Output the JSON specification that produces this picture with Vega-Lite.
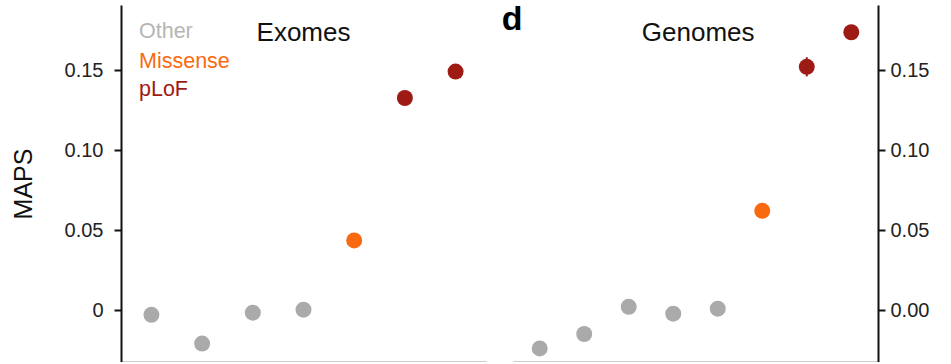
{
  "$schema": "https://vega.github.io/schema/vega-lite/v6.json",
  "padding": {"left": 11, "top": 2, "right": 0, "bottom": 0},
  "background": "white",
  "spacing": 15,
  "config": {
    "view": {"stroke": null},
    "font": "Liberation Sans",
    "axis": {"grid": false}
  },
  "datasets": {
    "exomes": [
      {"idx": 1, "type": "Other", "maps": -0.003},
      {"idx": 2, "type": "Other", "maps": -0.021},
      {"idx": 3, "type": "Other", "maps": -0.0017},
      {"idx": 4, "type": "Other", "maps": 0.0002},
      {"idx": 5, "type": "Missense", "maps": 0.0435},
      {"idx": 6, "type": "pLoF", "maps": 0.1325},
      {"idx": 7, "type": "pLoF", "maps": 0.149}
    ],
    "genomes": [
      {"idx": 1, "type": "Other", "maps": -0.024},
      {"idx": 2, "type": "Other", "maps": -0.015},
      {"idx": 3, "type": "Other", "maps": 0.002},
      {"idx": 4, "type": "Other", "maps": -0.0023},
      {"idx": 5, "type": "Other", "maps": 0.0008},
      {"idx": 6, "type": "Missense", "maps": 0.062},
      {"idx": 7, "type": "pLoF", "maps": 0.152, "lo": 0.146, "hi": 0.158},
      {"idx": 8, "type": "pLoF", "maps": 0.1736}
    ],
    "one": [{"n": 1}]
  },
  "hconcat": [
    {
      "width": 365,
      "height": 357,
      "layer": [
        {
          "data": {"name": "exomes"},
          "mark": {"type": "circle", "size": 255, "opacity": 1},
          "encoding": {
            "x": {
              "field": "idx", "type": "quantitative",
              "scale": {"domain": [0.4, 7.6], "nice": false, "zero": false},
              "axis": {"domain": true, "domainColor": "#9a9a9a", "domainWidth": 2, "ticks": false, "labels": false, "title": null, "grid": false}
            },
            "y": {
              "field": "maps", "type": "quantitative",
              "scale": {"domain": [-0.0325, 0.190625], "nice": false, "zero": false},
              "axis": {
                "orient": "left",
                "values": [0, 0.05, 0.1, 0.15],
                "labelExpr": "datum.value == 0 ? '0' : format(datum.value, '.2f')",
                "title": "MAPS",
                "domainColor": "#111111", "domainWidth": 2,
                "tickColor": "#111111", "tickWidth": 2, "tickSize": 7,
                "labelFontSize": 20, "labelColor": "#222222", "labelPadding": 11,
                "titleFontSize": 25, "titleFontWeight": "normal", "titlePadding": 28, "titleColor": "#111111"
              }
            },
            "color": {
              "field": "type", "type": "nominal",
              "scale": {"domain": ["Other", "Missense", "pLoF"], "range": ["#aaaaaa", "#f96a10", "#9e1a14"]},
              "legend": null
            }
          }
        },
        {
          "data": {"name": "one"},
          "mark": {"type": "text", "fontSize": 26, "align": "center", "baseline": "alphabetic", "color": "#111111"},
          "encoding": {
            "x": {"datum": 4.0, "type": "quantitative"},
            "y": {"datum": 0.168, "type": "quantitative"},
            "text": {"value": "Exomes"}
          }
        },
        {
          "data": {"name": "one"},
          "mark": {"type": "text", "fontSize": 21.5, "align": "left", "baseline": "alphabetic", "opacity": 0.85},
          "encoding": {
            "x": {"datum": 0.755, "type": "quantitative"},
            "y": {"datum": 0.17, "type": "quantitative"},
            "text": {"value": "Other"},
            "color": {"datum": "Other", "type": "nominal"}
          }
        },
        {
          "data": {"name": "one"},
          "mark": {"type": "text", "fontSize": 21.5, "align": "left", "baseline": "alphabetic"},
          "encoding": {
            "x": {"datum": 0.755, "type": "quantitative"},
            "y": {"datum": 0.1515, "type": "quantitative"},
            "text": {"value": "Missense"},
            "color": {"datum": "Missense", "type": "nominal"}
          }
        },
        {
          "data": {"name": "one"},
          "mark": {"type": "text", "fontSize": 21.5, "align": "left", "baseline": "alphabetic"},
          "encoding": {
            "x": {"datum": 0.755, "type": "quantitative"},
            "y": {"datum": 0.134, "type": "quantitative"},
            "text": {"value": "pLoF"},
            "color": {"datum": "pLoF", "type": "nominal"}
          }
        }
      ]
    },
    {
      "width": 365,
      "height": 357,
      "layer": [
        {
          "data": {"name": "genomes"},
          "mark": {"type": "rule", "strokeWidth": 2, "color": "#9e1a14"},
          "encoding": {
            "x": {"field": "idx", "type": "quantitative"},
            "y": {"field": "lo", "type": "quantitative"},
            "y2": {"field": "hi"}
          }
        },
        {
          "data": {"name": "genomes"},
          "mark": {"type": "circle", "size": 255, "opacity": 1},
          "encoding": {
            "x": {
              "field": "idx", "type": "quantitative",
              "scale": {"domain": [0.4, 8.6], "nice": false, "zero": false},
              "axis": {"domain": true, "domainColor": "#9a9a9a", "domainWidth": 2, "ticks": false, "labels": false, "title": null, "grid": false}
            },
            "y": {
              "field": "maps", "type": "quantitative",
              "scale": {"domain": [-0.0325, 0.190625], "nice": false, "zero": false},
              "axis": {
                "orient": "right",
                "values": [0, 0.05, 0.1, 0.15],
                "format": ".2f",
                "title": null,
                "domainColor": "#111111", "domainWidth": 2,
                "tickColor": "#111111", "tickWidth": 2, "tickSize": 7,
                "labelFontSize": 20, "labelColor": "#222222", "labelPadding": 5
              }
            },
            "color": {
              "field": "type", "type": "nominal",
              "scale": {"domain": ["Other", "Missense", "pLoF"], "range": ["#aaaaaa", "#f96a10", "#9e1a14"]},
              "legend": null
            }
          }
        },
        {
          "data": {"name": "one"},
          "mark": {"type": "text", "fontSize": 26, "align": "center", "baseline": "alphabetic", "color": "#111111"},
          "encoding": {
            "x": {"datum": 4.56, "type": "quantitative"},
            "y": {"datum": 0.168, "type": "quantitative"},
            "text": {"value": "Genomes"}
          }
        },
        {
          "data": {"name": "one"},
          "mark": {"type": "text", "fontSize": 34, "fontWeight": "bold", "align": "center", "baseline": "alphabetic", "color": "#000000"},
          "encoding": {
            "x": {"datum": 0.38, "type": "quantitative"},
            "y": {"datum": 0.175, "type": "quantitative"},
            "text": {"value": "d"}
          }
        }
      ]
    }
  ]
}
